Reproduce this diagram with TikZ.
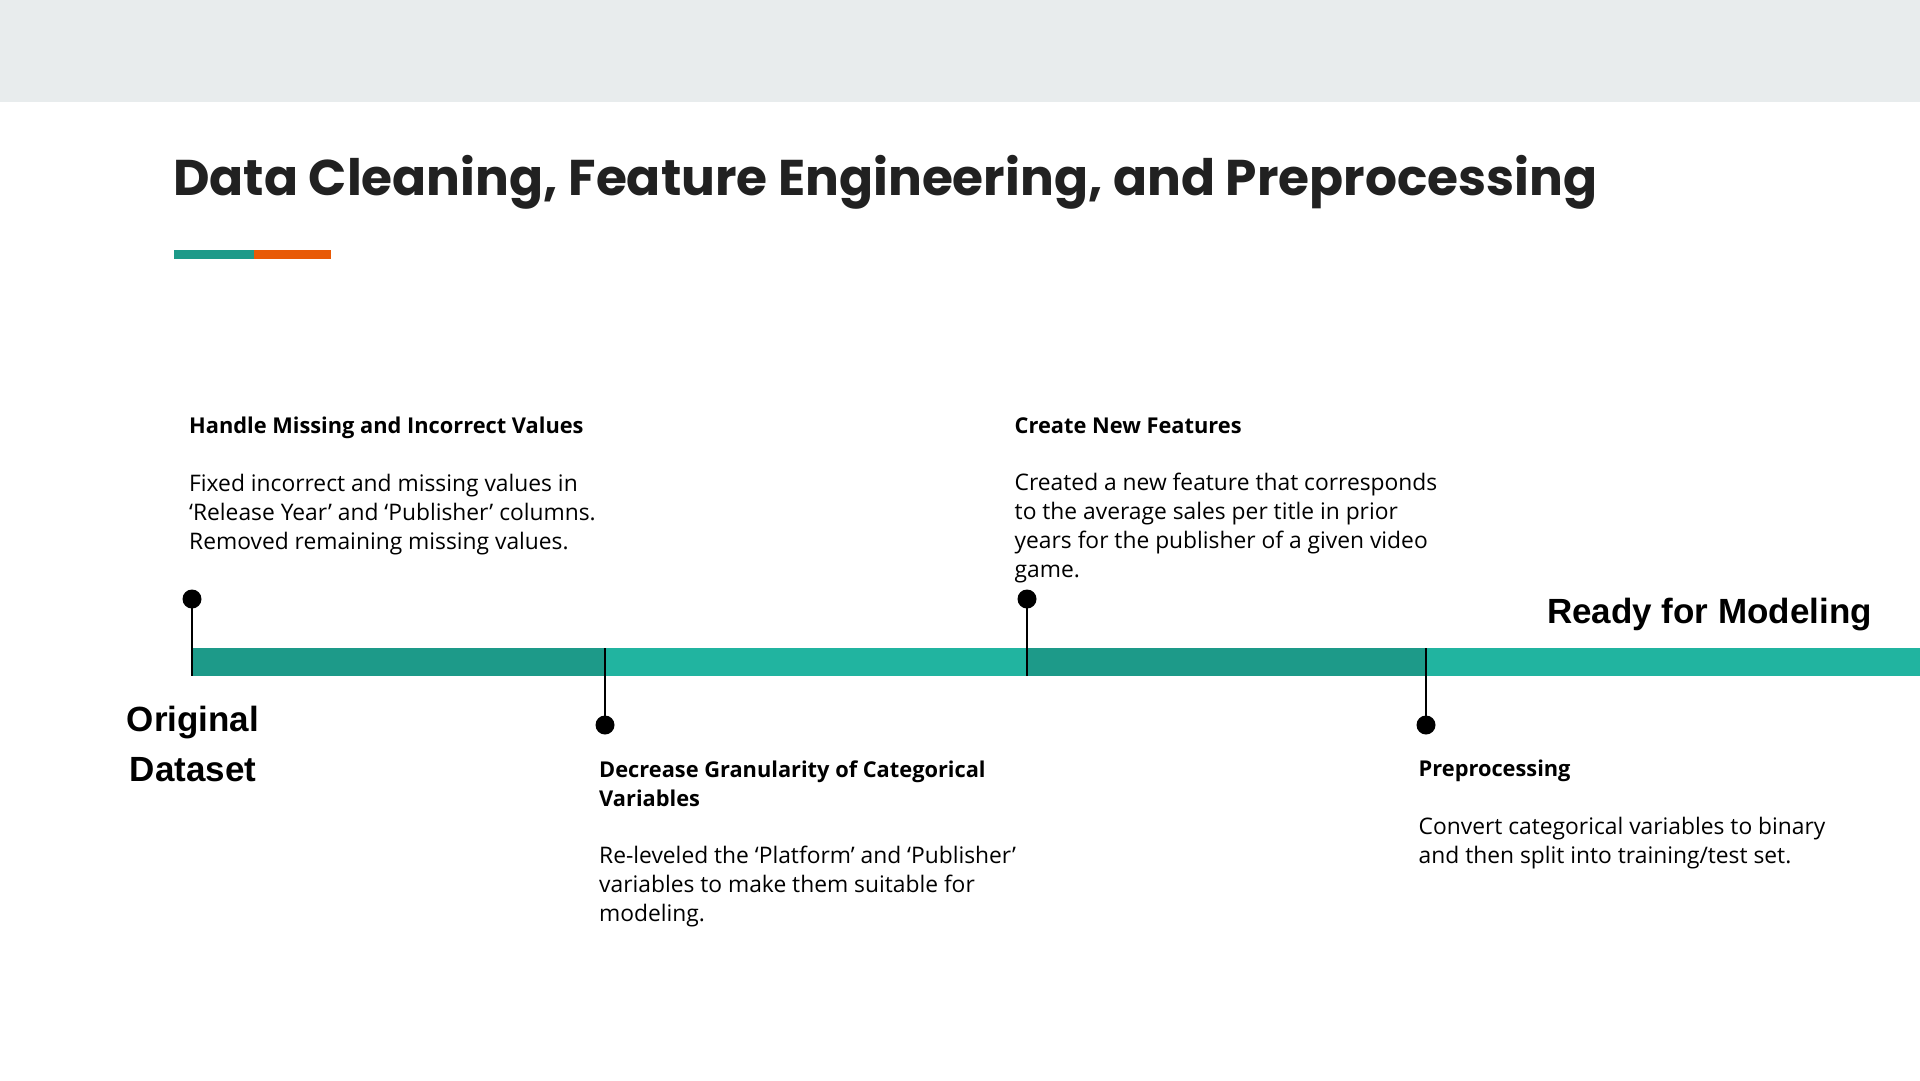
\documentclass[tikz,border=0pt]{standalone}
\usepackage{fontspec}
\setmainfont{Open Sans}
\newfontfamily\bigfont{Liberation Sans}
\newfontfamily\titlefont{Poppins}
\definecolor{band}{HTML}{E8ECED}
\definecolor{tealdark}{HTML}{1D9A89}
\definecolor{teallight}{HTML}{21B4A0}
\definecolor{accentorange}{HTML}{E85A06}
\definecolor{titlegray}{HTML}{212121}
\tikzset{
  heading/.style={anchor=base west, inner sep=0, align=left, font={\fontsize{21.8}{28.9}\selectfont\bfseries}},
  body/.style={anchor=base west, inner sep=0, align=left, font={\fontsize{22.8}{28.9}\selectfont}},
  bigtext/.style={inner sep=0, align=center, font={\bigfont\fontsize{35}{50}\selectfont\bfseries}},
  milestone/.style={circle, fill=black, minimum size=19pt, inner sep=0},
  stem/.style={draw=black, line width=1.2pt}
}
\begin{document}
\begin{tikzpicture}[x=1pt,y=-1pt]
\useasboundingbox (0,0) rectangle (1920,1080);
\fill[white] (0,0) rectangle (1920,1080);
% header band
\fill[band] (0,0) rectangle (1920,102);
% title and accent rule
\node[anchor=base west, inner sep=0, text=titlegray, font={\titlefont\fontsize{50.2}{60}\selectfont\bfseries}] (title) at (173,195) {Data Cleaning, Feature Engineering, and Preprocessing};
\fill[tealdark] (174,250) rectangle (254,259);
\fill[accentorange] (254,250) rectangle (331,259);
% timeline bar
\fill[tealdark] (192,648) rectangle (605,676);
\fill[teallight] (605,648) rectangle (1027,676);
\fill[tealdark] (1027,648) rectangle (1426,676);
\fill[teallight] (1426,648) rectangle (1920,676);
\coordinate (b1) at (192,676);
\coordinate (b2) at (605,648);
\coordinate (b3) at (1027,676);
\coordinate (b4) at (1426,648);
% milestones
\node[milestone] (d1) at (192,599) {};
\node[milestone] (d2) at (605,725) {};
\node[milestone] (d3) at (1027,599) {};
\node[milestone] (d4) at (1426,725) {};
\draw[stem] (d1.center) -- (b1);
\draw[stem] (b2) -- (d2.center);
\draw[stem] (d3.center) -- (b3);
\draw[stem] (b4) -- (d4.center);
% end labels
\node[bigtext, anchor=base] (orig) at (193,781.7) {Original\\Dataset};
\node[bigtext, anchor=base east] (ready) at (1872,623) {Ready for Modeling};
% step 1
\node[heading] (h1) at (189,433) {Handle Missing and Incorrect Values};
\node[body] (t1) at (189,549.5) {Fixed incorrect and missing values in\\‘Release Year’ and ‘Publisher’ columns.\\Removed remaining missing values.};
% step 2
\node[heading] (h2) at (599,806) {Decrease Granularity of Categorical\\Variables};
\node[body] (t2) at (599,921.5) {Re-leveled the ‘Platform’ and ‘Publisher’\\variables to make them suitable for\\modeling.};
% step 3
\node[heading] (h3) at (1014.5,433) {Create New Features};
\node[body] (t3) at (1014.5,577.5) {Created a new feature that corresponds\\to the average sales per title in prior\\years for the publisher of a given video\\game.};
% step 4
\node[heading] (h4) at (1418.5,776.7) {Preprocessing};
\node[body] (t4) at (1418.5,863.3) {Convert categorical variables to binary\\and then split into training/test set.};
\end{tikzpicture}
\end{document}
